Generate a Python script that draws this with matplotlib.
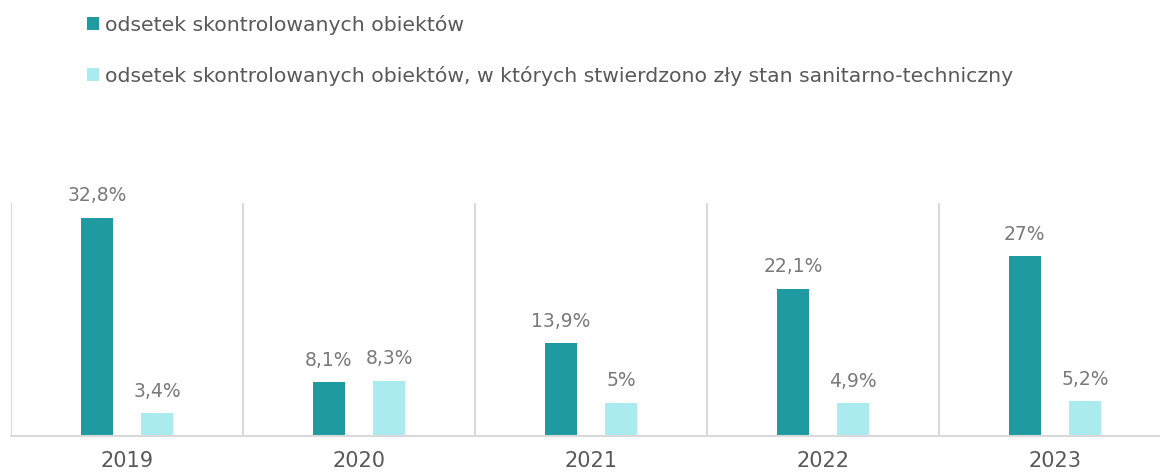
import matplotlib
matplotlib.use("Agg")
import matplotlib.pyplot as plt
import numpy as np

# data
years = ["2019", "2020", "2021", "2022", "2023"]
skontrolowane = [32.8, 8.1, 13.9, 22.1, 27.0]
zly_stan = [3.4, 8.3, 5.0, 4.9, 5.2]
labels_skontrolowane = ["32,8%", "8,1%", "13,9%", "22,1%", "27%"]
labels_zly_stan = ["3,4%", "8,3%", "5%", "4,9%", "5,2%"]
series_names = [
    "odsetek skontrolowanych obiektów",
    "odsetek skontrolowanych obiektów, w których stwierdzono zły stan sanitarno-techniczny",
]

teal = "#1F9AA0"
light = "#A9EBEF"
grid_col = "#D9D9D9"
label_col = "#7A7A7A"
text_col = "#595959"

plt.rcParams["font.family"] = ["DejaVu Sans"]

fig = plt.figure(figsize=(11.6, 4.74), dpi=100)
# axes runs a little past the right edge, like the original
ax = fig.add_axes([11 / 1160, 38 / 474, 1160 / 1160, 233 / 474])

x = np.arange(len(years))
w = 0.138
off = 0.13
b1 = ax.bar(x - off, skontrolowane, w, color=teal, label=series_names[0])
b2 = ax.bar(x + off, zly_stan, w, color=light, label=series_names[1])

for bars, labs in [(b1, labels_skontrolowane), (b2, labels_zly_stan)]:
    for rect, lab in zip(bars, labs):
        ax.annotate(lab, (rect.get_x() + rect.get_width() / 2, rect.get_height()),
                    xytext=(0, 9), textcoords="offset points",
                    ha="center", va="bottom", fontsize=13.5, color=label_col)

ax.set_xlim(-0.5, len(years) - 0.5)
ax.set_ylim(0, 35)
ax.set_yticks([])
ax.set_xticks(x)
ax.set_xticklabels(years, fontsize=15, color=text_col)
ax.tick_params(axis="x", length=0, pad=11)

# vertical separators between years
ax.set_xticks(np.arange(len(years) + 1) - 0.5, minor=True)
ax.tick_params(axis="x", which="minor", length=0)
ax.grid(axis="x", which="minor", color=grid_col, linewidth=1.5)
ax.grid(axis="x", which="major", visible=False)

for s in ["top", "right", "left"]:
    ax.spines[s].set_visible(False)
ax.spines["bottom"].set_color(grid_col)
ax.spines["bottom"].set_linewidth(1.5)

leg = fig.legend(handles=[b1, b2], loc="upper left", bbox_to_anchor=(87 / 1160, 1 - 15 / 474),
                 frameon=False, fontsize=14.7, labelspacing=1.52,
                 handlelength=0.6, handleheight=0.6, handletextpad=0.3,
                 borderpad=0, borderaxespad=0)
for t in leg.get_texts():
    t.set_color(text_col)

fig.savefig("out.png", dpi=100)
